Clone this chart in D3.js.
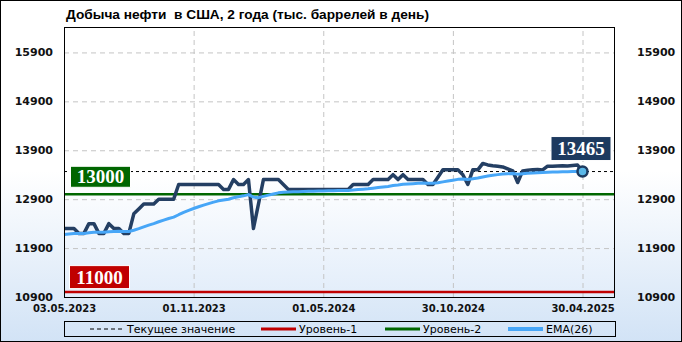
<!DOCTYPE html>
<html><head><meta charset="utf-8">
<script src="https://cdn.jsdelivr.net/npm/d3@7"></script>
<style>html,body{margin:0;padding:0;background:#fff}svg{display:block}</style>
</head><body><svg id="c" width="682" height="342"></svg>
<script>
const titleText = "Добыча нефти  в США, 2 года (тыс. баррелей в день)";
const startDate = "03.05.2023";
const endDate = "30.04.2025";
const production = [
12300,12300,12300,12200,12200,12400,12400,12200,12200,12400,
12300,12300,12200,12200,12600,12700,12800,12800,12800,12900,
12900,12900,12900,13200,13200,13200,13200,13200,13200,13200,
13200,13200,13100,13100,13300,13200,13200,13300,12300,12800,
13300,13300,13300,13300,13200,13100,13100,13100,13100,13100,
13100,13100,13100,13100,13100,13100,13100,13100,13200,13200,
13200,13200,13300,13300,13300,13300,13400,13300,13400,13300,
13300,13300,13300,13200,13200,13350,13500,13500,13500,13500,
13400,13200,13500,13500,13631,13600,13585,13573,13560,13520,
13480,13240,13478,13494,13502,13508,13497,13575,13573,13580,
13582,13580,13590,13600,13465];
const ema26 = [
12180,12189,12197,12197,12197,12212,12226,12224,12222,12235,
12240,12244,12241,12238,12265,12297,12334,12369,12401,12438,
12472,12504,12533,12582,12628,12670,12709,12745,12779,12810,
12839,12866,12883,12899,12929,12949,12968,12993,12942,12931,
12958,12983,13007,13029,13041,13046,13050,13053,13057,13060,
13063,13066,13068,13070,13073,13075,13077,13078,13087,13096,
13103,13111,13125,13138,13150,13161,13179,13188,13203,13211,
13217,13224,13229,13227,13225,13234,13254,13272,13289,13305,
13312,13304,13318,13332,13354,13372,13388,13402,13414,13422,
13426,13412,13420,13428,13435,13441,13446,13451,13455,13458,
13461,13463,13464,13465,13465];
const yTicks = [10900, 11900, 12900, 13900, 14900, 15900];
const xTickLabels = ["03.05.2023", "01.11.2023", "01.05.2024", "30.10.2024", "30.04.2025"];
const currentValue = 13465;
const level1 = 11000;
const level2 = 13000;
const legendLabels = ["Текущее значение", "Уровень-1", "Уровень-2", "EMA(26)"];

const parse = d3.utcParse("%d.%m.%Y");
const dates = d3.utcWednesday.range(parse(startDate), d3.utcDay.offset(parse(endDate), 1));
const P = {l: 64, r: 615, t: 27, b: 297};
const x = d3.scaleUtc().domain([parse(startDate), parse(endDate)]).range([64, 582.5]);
const y = d3.scaleLinear().domain([10900, 16420]).range([P.b, P.t]);

const C = {dark: "#243f63", ema: "#47a6f7", green: "#006600", red: "#c00000", navy: "#1d3a5f"};
const svg = d3.select("#c");
const defs = svg.append("defs");
const g1 = defs.append("linearGradient").attr("id", "bgOuter").attr("x1", 0).attr("y1", 0).attr("x2", 0).attr("y2", 1);
g1.append("stop").attr("offset", "0").attr("stop-color", "#ffffff");
g1.append("stop").attr("offset", "0.5").attr("stop-color", "#ffffff");
g1.append("stop").attr("offset", "1").attr("stop-color", "#d2e3f6");
const g2 = defs.append("linearGradient").attr("id", "bgPlot").attr("x1", 0).attr("y1", 0).attr("x2", 0).attr("y2", 1);
g2.append("stop").attr("offset", "0").attr("stop-color", "#ffffff");
g2.append("stop").attr("offset", "0.55").attr("stop-color", "#ffffff");
g2.append("stop").attr("offset", "1").attr("stop-color", "#e2edfa");

svg.append("rect").attr("x", 0.5).attr("y", 0.5).attr("width", 681).attr("height", 341)
  .attr("fill", "url(#bgOuter)").attr("stroke", "#000").attr("stroke-width", 1);
svg.append("rect").attr("x", P.l).attr("y", P.t).attr("width", P.r - P.l).attr("height", P.b - P.t)
  .attr("fill", "url(#bgPlot)");

// title
svg.append("text").attr("x", 66).attr("y", 19).style("white-space", "pre")
  .attr("font-family", "'Liberation Sans', Arial, sans-serif").attr("font-weight", "bold")
  .attr("font-size", 13.5).attr("textLength", 363).attr("lengthAdjust", "spacingAndGlyphs")
  .attr("fill", "#000").text(titleText);

// grid via axes
const gridY = svg.append("g").attr("transform", `translate(${P.l},0)`)
  .call(d3.axisLeft(y).tickValues(yTicks.filter(v => v !== 10900)).tickSize(-(P.r - P.l)).tickFormat(""));
gridY.select(".domain").remove();
gridY.selectAll("line").attr("stroke", "#c4c4c4").attr("stroke-dasharray", "5,4");
const tickDates = xTickLabels.map(parse);
const gridX = svg.append("g").attr("transform", `translate(0,${P.b})`)
  .call(d3.axisBottom(x).tickValues(tickDates.slice(1)).tickSize(-(P.b - P.t)).tickFormat(""));
gridX.select(".domain").remove();
gridX.selectAll("line").attr("stroke", "#c4c4c4").attr("stroke-dasharray", "5,4");

// axis labels
const fontAx = "'DejaVu Sans', Verdana, sans-serif";
const axL = svg.append("g").attr("transform", `translate(${P.l},0)`)
  .call(d3.axisLeft(y).tickValues(yTicks).tickSize(0).tickPadding(11).tickFormat(d3.format("d")));
axL.select(".domain").remove();
axL.selectAll("text").attr("font-family", fontAx).attr("font-weight", "bold").attr("font-size", 11).attr("fill", "#111");
const axR = svg.append("g").attr("transform", `translate(${P.r},0)`)
  .call(d3.axisRight(y).tickValues(yTicks).tickSize(0).tickPadding(22).tickFormat(d3.format("d")));
axR.select(".domain").remove();
axR.selectAll("text").attr("font-family", fontAx).attr("font-weight", "bold").attr("font-size", 11).attr("fill", "#111");
const axB = svg.append("g").attr("transform", `translate(0,${P.b})`)
  .call(d3.axisBottom(x).tickValues(tickDates).tickSize(0).tickPadding(8).tickFormat(d3.utcFormat("%d.%m.%Y")));
axB.select(".domain").remove();
axB.selectAll("text").attr("font-family", fontAx).attr("font-weight", "bold").attr("font-size", 10).attr("fill", "#111");

// level lines
const hline = (v, color, w, dash) => svg.append("line").attr("x1", P.l).attr("x2", P.r)
  .attr("y1", y(v)).attr("y2", y(v)).attr("stroke", color).attr("stroke-width", w)
  .attr("stroke-dasharray", dash || null);
hline(level1, C.red, 2.5);
hline(level2, C.green, 2.5);
hline(currentValue, "#000", 1, "3,3");

// series
const line = d3.line().x((d, i) => x(dates[i])).y(d => y(d));
svg.append("path").datum(production).attr("d", line).attr("fill", "none")
  .attr("stroke", C.dark).attr("stroke-width", 3.5).attr("stroke-linejoin", "round");
svg.append("path").datum(ema26).attr("d", line).attr("fill", "none")
  .attr("stroke", C.ema).attr("stroke-width", 3).attr("stroke-linejoin", "round");

// frame
svg.append("rect").attr("x", P.l + 0.5).attr("y", P.t + 0.5).attr("width", P.r - P.l - 1).attr("height", P.b - P.t)
  .attr("fill", "none").attr("stroke", "#000").attr("stroke-width", 1);

// last marker
const li = production.length - 1;
const lx = x(dates[li]), ly = y(production[li]);
svg.append("circle").attr("cx", lx).attr("cy", ly).attr("r", 5)
  .attr("fill", "#5bb8e8").attr("stroke", C.navy).attr("stroke-width", 2.5);

// value boxes
const fontBox = "'Liberation Serif', 'Times New Roman', serif";
function box(cx, top, h, fill, txt) {
  const w = 60;
  svg.append("rect").attr("x", cx - w / 2).attr("y", top).attr("width", w).attr("height", h)
    .attr("fill", fill).attr("stroke", "#fff").attr("stroke-width", 1);
  svg.append("text").attr("x", cx).attr("y", top + h / 2 + 6.5).attr("text-anchor", "middle")
    .attr("font-family", fontBox).attr("font-weight", "bold").attr("font-size", 19)
    .attr("fill", "#fff").text(txt);
}
box(lx - 1.5, ly - 35, 24, C.navy, d3.format("d")(currentValue));
box(100.5, y(level2) - 28, 21, C.green, d3.format("d")(level2));
box(99.5, y(level1) - 26.5, 23, C.red, d3.format("d")(level1));

// legend
svg.append("rect").attr("x", 64.5).attr("y", 321.5).attr("width", 551).attr("height", 15)
  .attr("fill", "none").attr("stroke", "#000").attr("stroke-width", 1);
const leg = [
  {x1: 90, x2: 122, tx: 127, color: "#000", w: 1, dash: "4,3"},
  {x1: 261, x2: 296, tx: 299, color: C.red, w: 3},
  {x1: 385, x2: 420, tx: 423, color: C.green, w: 3},
  {x1: 508, x2: 543, tx: 546, color: C.ema, w: 4}
];
leg.forEach((d, i) => {
  svg.append("line").attr("x1", d.x1).attr("x2", d.x2).attr("y1", 329).attr("y2", 329)
    .attr("stroke", d.color).attr("stroke-width", d.w).attr("stroke-dasharray", d.dash || null);
  svg.append("text").attr("x", d.tx).attr("y", 333).attr("font-family", fontAx)
    .attr("font-size", 11).attr("fill", "#000").text(legendLabels[i]);
});
</script></body></html>
